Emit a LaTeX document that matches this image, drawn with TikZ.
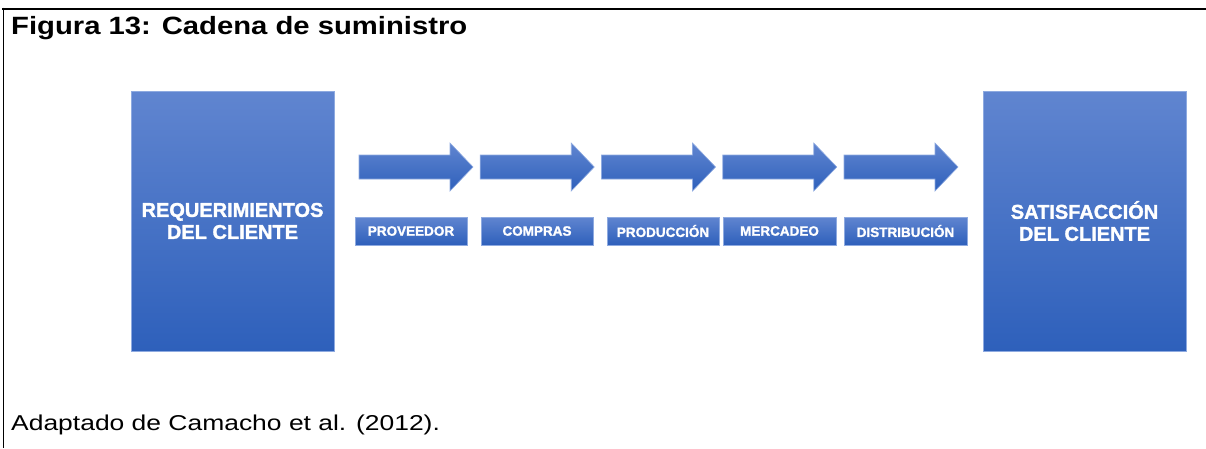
\documentclass[tikz,border=0pt]{standalone}
\usepackage{fontspec}
\setmainfont{Liberation Sans}
\newfontfamily\widefont[FakeStretch=1.17]{Liberation Sans}
\newfontfamily\footfont[FakeStretch=1.23]{Liberation Sans}
\newfontfamily\heavyfont[FakeBold=1.5]{Liberation Sans Bold}
\usetikzlibrary{positioning}

\definecolor{chainTop}{RGB}{96,133,208}
\definecolor{chainBot}{RGB}{46,96,187}
\definecolor{chainEdge}{RGB}{142,170,224}

\tikzset{
  endbox/.style={minimum width=203pt, minimum height=260pt, inner sep=0pt,
    top color=chainTop, bottom color=chainBot, draw=chainEdge, line width=0.8pt,
    text=white, align=center, font=\heavyfont\fontsize{20}{22}\selectfont},
  stagebox/.style={minimum height=28pt, inner sep=0pt,
    top color=chainTop, bottom color=chainBot, draw=chainEdge, line width=0.8pt,
    text=white, font=\heavyfont\fontsize{13.5}{15}\selectfont},
  flowarrow/.style={top color=chainTop, bottom color=chainBot, draw=chainEdge, line width=0.6pt}
}

\begin{document}
\begin{tikzpicture}[x=1pt, y=-1pt]
    \useasboundingbox (0,0) rectangle (1206,448);

    % Frame lines (top and left)
    \draw[line width=2pt] (2,8.5) -- (1206,8.5);
    \draw[line width=1.5pt] (3.5,7.5) -- (3.5,448);

    % Caption and source
    \node[anchor=base west, inner sep=0pt, font=\widefont\bfseries\fontsize{25}{28}\selectfont] (title) at (11,34.5) {Figura 13: Cadena de suministro};
    \node[anchor=base west, inner sep=0pt, font=\footfont\fontsize{21.5}{26}\selectfont] (source) at (11,430.5) {Adaptado de Camacho et al. (2012).};

    % Start and end of the chain
    \node[endbox] (req) at (232.5,221) {REQUERIMIENTOS\\DEL CLIENTE};
    \node[endbox] (sat) at (1084.5,221) {SATISFACCI\'ON\\DEL CLIENTE};

    % Block arrows
    \foreach \x in {359, 480.25, 601.5, 722.75, 844}
        \shadedraw[flowarrow] (\x,155) -- ++(91,0) -- ++(0,-12) -- ++(23,24) -- ++(-23,24) -- ++(0,-12) -- ++(-91,0) -- cycle;

    % Stage labels
    \node[stagebox, minimum width=112pt] (prov) at (411,231) {PROVEEDOR};
    \node[stagebox, minimum width=112pt] (comp) at (537,231) {COMPRAS};
    \node[stagebox, minimum width=112pt] (prod) at (663,231) {PRODUCCI\'ON};
    \node[stagebox, minimum width=113pt] (merc) at (779.5,231) {MERCADEO};
    \node[stagebox, minimum width=123pt] (dist) at (905.5,231) {DISTRIBUCI\'ON};

\end{tikzpicture}
\end{document}
